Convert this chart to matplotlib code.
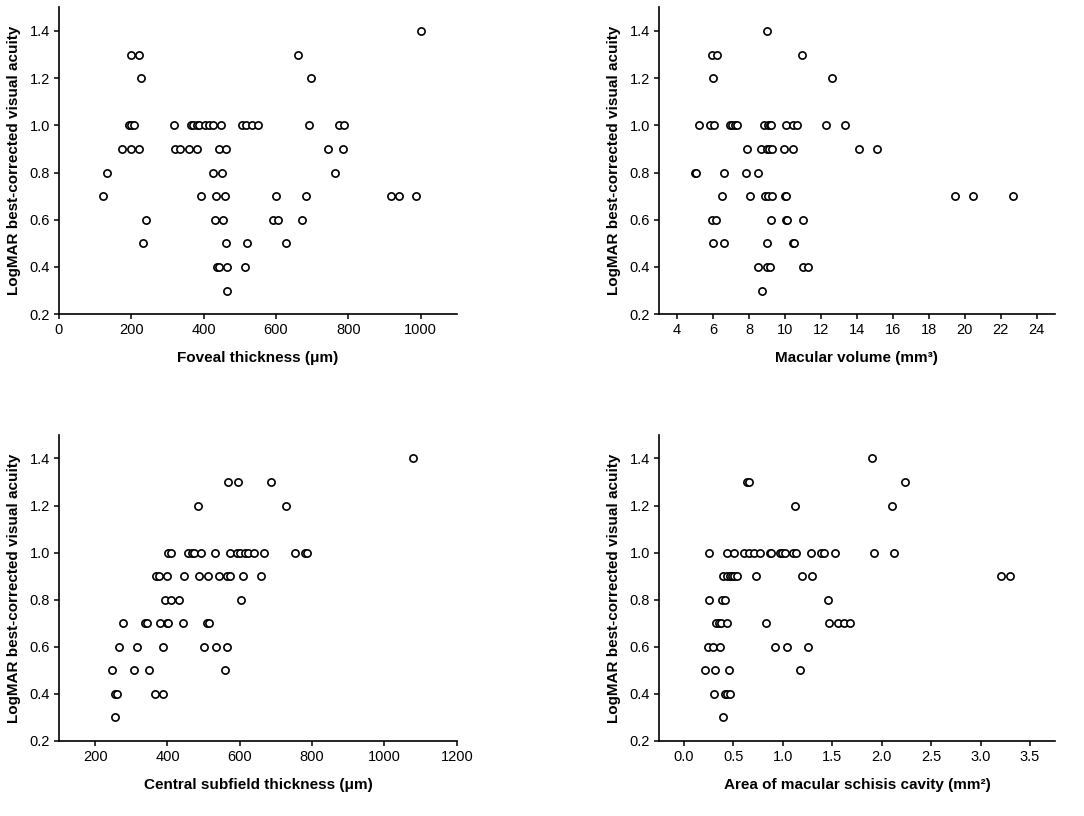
import matplotlib
matplotlib.use("Agg")
import matplotlib.pyplot as plt

plt.rcParams['font.family'] = ['Liberation Sans', 'DejaVu Sans']

# Panel A: Foveal thickness
fov_x = [1001,
         198, 221, 660,
         227, 696,
         193, 198, 207, 319, 365, 370, 381, 388, 404, 414, 426, 447, 506, 517, 533, 549, 690, 775, 789,
         175, 200, 221, 321, 334, 360, 382, 442, 462, 744, 786,
         132, 427, 451, 764,
         122, 393, 434, 458, 599, 684, 919, 939, 988,
         242, 432, 454, 592, 607, 672,
         232, 462, 520, 627,
         437, 443, 465, 513,
         464]
fov_y = [1.4,
         1.3, 1.3, 1.3,
         1.2, 1.2,
         1.0, 1.0, 1.0, 1.0, 1.0, 1.0, 1.0, 1.0, 1.0, 1.0, 1.0, 1.0, 1.0, 1.0, 1.0, 1.0, 1.0, 1.0, 1.0,
         0.9, 0.9, 0.9, 0.9, 0.9, 0.9, 0.9, 0.9, 0.9, 0.9, 0.9,
         0.8, 0.8, 0.8, 0.8,
         0.7, 0.7, 0.7, 0.7, 0.7, 0.7, 0.7, 0.7, 0.7,
         0.6, 0.6, 0.6, 0.6, 0.6, 0.6,
         0.5, 0.5, 0.5, 0.5,
         0.4, 0.4, 0.4, 0.4,
         0.3]

# Panel B: Macular volume
vol_x = [8.98,
         5.96, 6.2, 10.93,
         6.0, 12.63,
         5.24, 5.85, 6.04, 6.96, 7.07, 7.2, 7.31, 8.85, 9.04, 9.15, 9.22, 10.06, 10.46, 10.67, 12.26, 13.33,
         7.91, 8.65, 9.0, 9.11, 9.3, 9.93, 10.43, 14.13, 15.11,
         5.0, 5.07, 6.63, 7.85, 8.52,
         6.48, 8.07, 8.9, 9.06, 9.3, 9.98, 10.07, 19.43, 20.43, 22.67,
         5.96, 6.15, 9.22, 10.04, 10.11, 11.02,
         6.0, 6.63, 9.02, 10.43, 10.5,
         8.52, 8.98, 9.15, 10.98, 11.26,
         8.72]
vol_y = [1.4,
         1.3, 1.3, 1.3,
         1.2, 1.2,
         1.0, 1.0, 1.0, 1.0, 1.0, 1.0, 1.0, 1.0, 1.0, 1.0, 1.0, 1.0, 1.0, 1.0, 1.0, 1.0,
         0.9, 0.9, 0.9, 0.9, 0.9, 0.9, 0.9, 0.9, 0.9,
         0.8, 0.8, 0.8, 0.8, 0.8,
         0.7, 0.7, 0.7, 0.7, 0.7, 0.7, 0.7, 0.7, 0.7, 0.7,
         0.6, 0.6, 0.6, 0.6, 0.6, 0.6,
         0.5, 0.5, 0.5, 0.5, 0.5,
         0.4, 0.4, 0.4, 0.4, 0.4,
         0.3]

# Panel C: Central subfield thickness
cst_x = [1079,
         567, 594, 687,
         484, 728,
         401, 410, 456, 469, 474, 492, 532, 573, 592, 601, 613, 623, 640, 668, 753, 779, 786,
         368, 377, 400, 446, 488, 511, 543, 564, 573, 608, 658,
         392, 410, 431, 603,
         278, 337, 343, 380, 400, 402, 443, 509, 515,
         267, 315, 388, 501, 534, 564,
         246, 307, 350, 559,
         255, 260, 366, 389,
         256]
cst_y = [1.4,
         1.3, 1.3, 1.3,
         1.2, 1.2,
         1.0, 1.0, 1.0, 1.0, 1.0, 1.0, 1.0, 1.0, 1.0, 1.0, 1.0, 1.0, 1.0, 1.0, 1.0, 1.0, 1.0,
         0.9, 0.9, 0.9, 0.9, 0.9, 0.9, 0.9, 0.9, 0.9, 0.9, 0.9,
         0.8, 0.8, 0.8, 0.8,
         0.7, 0.7, 0.7, 0.7, 0.7, 0.7, 0.7, 0.7, 0.7,
         0.6, 0.6, 0.6, 0.6, 0.6, 0.6,
         0.5, 0.5, 0.5, 0.5,
         0.4, 0.4, 0.4, 0.4,
         0.3]

# Panel D: Area of macular schisis cavity
area_x = [1.907,
          0.64, 0.66, 2.24,
          1.127, 2.10,
          0.253, 0.435, 0.51, 0.607, 0.66, 0.709, 0.77, 0.87, 0.884, 0.972, 0.996, 1.02, 1.10, 1.137,
          1.286, 1.387, 1.42, 1.525, 1.927, 2.123,
          0.398, 0.432, 0.466, 0.49, 0.51, 0.533, 0.726, 1.195, 1.30, 3.203, 3.30,
          0.256, 0.388, 0.412, 1.455,
          0.33, 0.354, 0.375, 0.435, 0.827, 1.465, 1.563, 1.62, 1.677,
          0.243, 0.30, 0.361, 0.925, 1.043, 1.255,
          0.216, 0.314, 0.462, 1.174,
          0.304, 0.418, 0.439, 0.466,
          0.398]
area_y = [1.4,
          1.3, 1.3, 1.3,
          1.2, 1.2,
          1.0, 1.0, 1.0, 1.0, 1.0, 1.0, 1.0, 1.0, 1.0, 1.0, 1.0, 1.0, 1.0, 1.0,
          1.0, 1.0, 1.0, 1.0, 1.0, 1.0,
          0.9, 0.9, 0.9, 0.9, 0.9, 0.9, 0.9, 0.9, 0.9, 0.9, 0.9,
          0.8, 0.8, 0.8, 0.8,
          0.7, 0.7, 0.7, 0.7, 0.7, 0.7, 0.7, 0.7, 0.7,
          0.6, 0.6, 0.6, 0.6, 0.6, 0.6,
          0.5, 0.5, 0.5, 0.5,
          0.4, 0.4, 0.4, 0.4,
          0.3]

y_label = "LogMAR best-corrected visual acuity"
y_ticks = [0.2, 0.4, 0.6, 0.8, 1.0, 1.2, 1.4]

panels = [
    (fov_x, fov_y, "Foveal thickness (\u03bcm)", (0, 1100), [0, 200, 400, 600, 800, 1000], "{:.0f}",
     [0.0544, 0.615, 0.367, 0.376]),
    (vol_x, vol_y, "Macular volume (mm\u00b3)", (3, 25), list(range(4, 25, 2)), "{:.0f}",
     [0.608, 0.615, 0.365, 0.376]),
    (cst_x, cst_y, "Central subfield thickness (\u03bcm)", (100, 1200), [200, 400, 600, 800, 1000, 1200], "{:.0f}",
     [0.0544, 0.092, 0.367, 0.375]),
    (area_x, area_y, "Area of macular schisis cavity (mm\u00b2)", (-0.25, 3.75), [0.0, 0.5, 1.0, 1.5, 2.0, 2.5, 3.0, 3.5], "{:.1f}",
     [0.608, 0.092, 0.365, 0.375]),
]

fig = plt.figure(figsize=(10.84, 8.16), dpi=100)
for xs, ys, xlabel, xlim, xticks, fmt, rect in panels:
    ax = fig.add_axes(rect)
    ax.plot(xs, ys, linestyle='none', marker='o', markersize=5.2,
            markerfacecolor='white', markeredgecolor='black', markeredgewidth=1.2)
    ax.set_xlim(*xlim)
    ax.set_ylim(0.2, 1.5)
    ax.set_xticks(xticks)
    ax.set_xticklabels([fmt.format(t) for t in xticks])
    ax.set_yticks(y_ticks)
    ax.set_yticklabels(["{:.1f}".format(t) for t in y_ticks])
    for s in ['top', 'right']:
        ax.spines[s].set_visible(False)
    for s in ['left', 'bottom']:
        ax.spines[s].set_linewidth(1.2)
    ax.tick_params(direction='out', length=3.5, width=1.1, labelsize=10.5, colors='black', pad=3)
    ax.set_xlabel(xlabel, fontsize=11, fontweight='bold', labelpad=10)
    ax.set_ylabel(y_label, fontsize=11, fontweight='bold', labelpad=6)

fig.savefig("out.png", dpi=100)
